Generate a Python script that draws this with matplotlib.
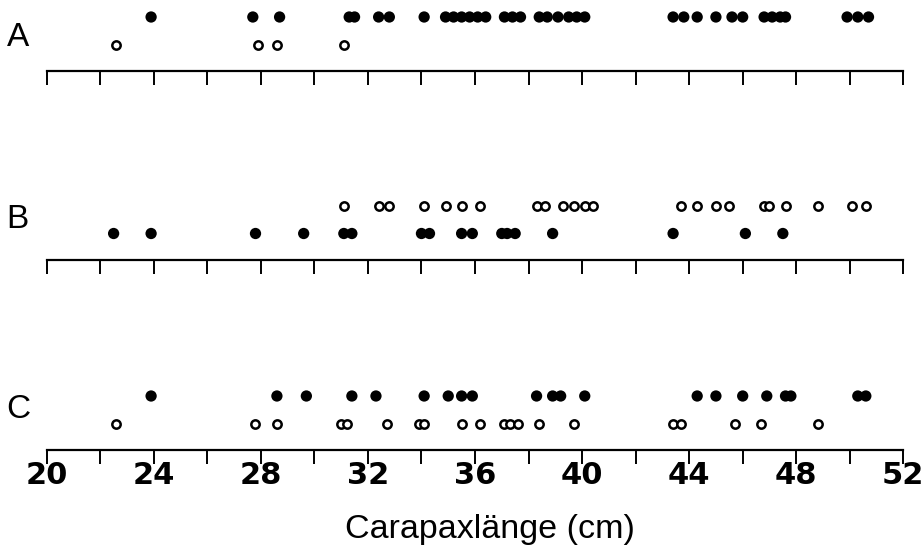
import matplotlib
matplotlib.use("Agg")
import matplotlib.pyplot as plt
import numpy as np

plt.rcParams['font.family'] = ['Liberation Sans', 'DejaVu Sans']

# Carapaxlänge (cm) je Gruppe, gefüllte und offene Punkte
a_filled = [23.9, 27.7, 28.7, 31.3, 31.5, 32.4, 32.8, 34.1, 34.9, 35.2, 35.5, 35.8,
            36.1, 36.4, 37.1, 37.4, 37.7, 38.4, 38.7, 39.1, 39.5, 39.8, 40.1,
            43.4, 43.8, 44.3, 45.0, 45.6, 46.0, 46.8, 47.1, 47.4, 47.6,
            49.9, 50.3, 50.7]
a_open = [22.6, 27.9, 28.6, 31.1]

b_open = [31.1, 32.4, 32.8, 34.1, 34.9, 35.5, 36.2, 38.3, 38.6, 39.3, 39.7, 40.1,
          40.4, 43.7, 44.3, 45.0, 45.5, 46.8, 47.0, 47.6, 48.8, 50.1, 50.6]
b_filled = [22.5, 23.9, 27.8, 29.6, 31.1, 31.4, 34.0, 34.3, 35.5, 35.9, 37.0, 37.2,
            37.5, 38.9, 43.4, 46.1, 47.5]

c_filled = [23.9, 28.6, 29.7, 31.4, 32.3, 34.1, 35.0, 35.5, 35.9, 38.3, 38.9, 39.2,
            40.1, 44.3, 45.0, 46.0, 46.9, 47.6, 47.8, 50.3, 50.6]
c_open = [22.6, 27.8, 28.6, 31.0, 31.2, 32.7, 33.9, 34.1, 35.5, 36.2, 37.1, 37.3,
          37.6, 38.4, 39.7, 43.4, 43.7, 45.7, 46.7, 48.8]

tick_pos = np.arange(20, 53, 2)
label_pos = np.arange(20, 53, 4)

W, H = 924, 552
fig = plt.figure(figsize=(W / 100, H / 100), dpi=100)

x0, x1 = 46.7, 903.3
top_y, low_y = 54, 26.5

# (Name, Achsenhöhe in px von oben, Höhe des Buchstabens, obere Reihe, untere Reihe)
rows = [
    ("A", 71, 33, (a_filled, True), (a_open, False)),
    ("B", 260, 41, (b_open, False), (b_filled, True)),
    ("C", 450, 40, (c_filled, True), (c_open, False)),
]

for i, (name, axis_y, name_y, upper, lower) in enumerate(rows):
    ax = fig.add_axes([x0 / W, (H - axis_y) / H, (x1 - x0) / W, 65 / H])
    ax.set_xlim(20, 52)
    ax.set_ylim(0, 65)
    ax.patch.set_alpha(0)
    for s in ["top", "right", "left"]:
        ax.spines[s].set_visible(False)
    ax.spines["bottom"].set_linewidth(1.6)
    ax.set_yticks([])
    ax.set_xticks(tick_pos)
    ax.tick_params(axis="x", direction="out", length=10, width=1.4, pad=-2)
    if i == 2:
        ax.set_xticklabels([str(v) if v in label_pos else "" for v in tick_pos],
                           fontsize=22, fontweight="bold", family="DejaVu Sans")
        ax.set_xlabel("Carapaxlänge (cm)", fontsize=24.5)
        ax.xaxis.set_label_coords(0.5175, -0.985)
    else:
        ax.set_xticklabels([])

    for (vals, filled), yy in ((upper, top_y), (lower, low_y)):
        y = np.full(len(vals), yy)
        if filled:
            ax.scatter(vals, y, s=66, color="black", edgecolors="none",
                       clip_on=False, zorder=3)
        else:
            ax.scatter(vals, y, s=36, facecolors="white", edgecolors="black",
                       linewidths=1.8, clip_on=False, zorder=3)

    ax.text(-0.047, name_y, name, transform=ax.get_yaxis_transform(),
            fontsize=24, ha="left", va="center")

fig.savefig("out.png", dpi=100)
